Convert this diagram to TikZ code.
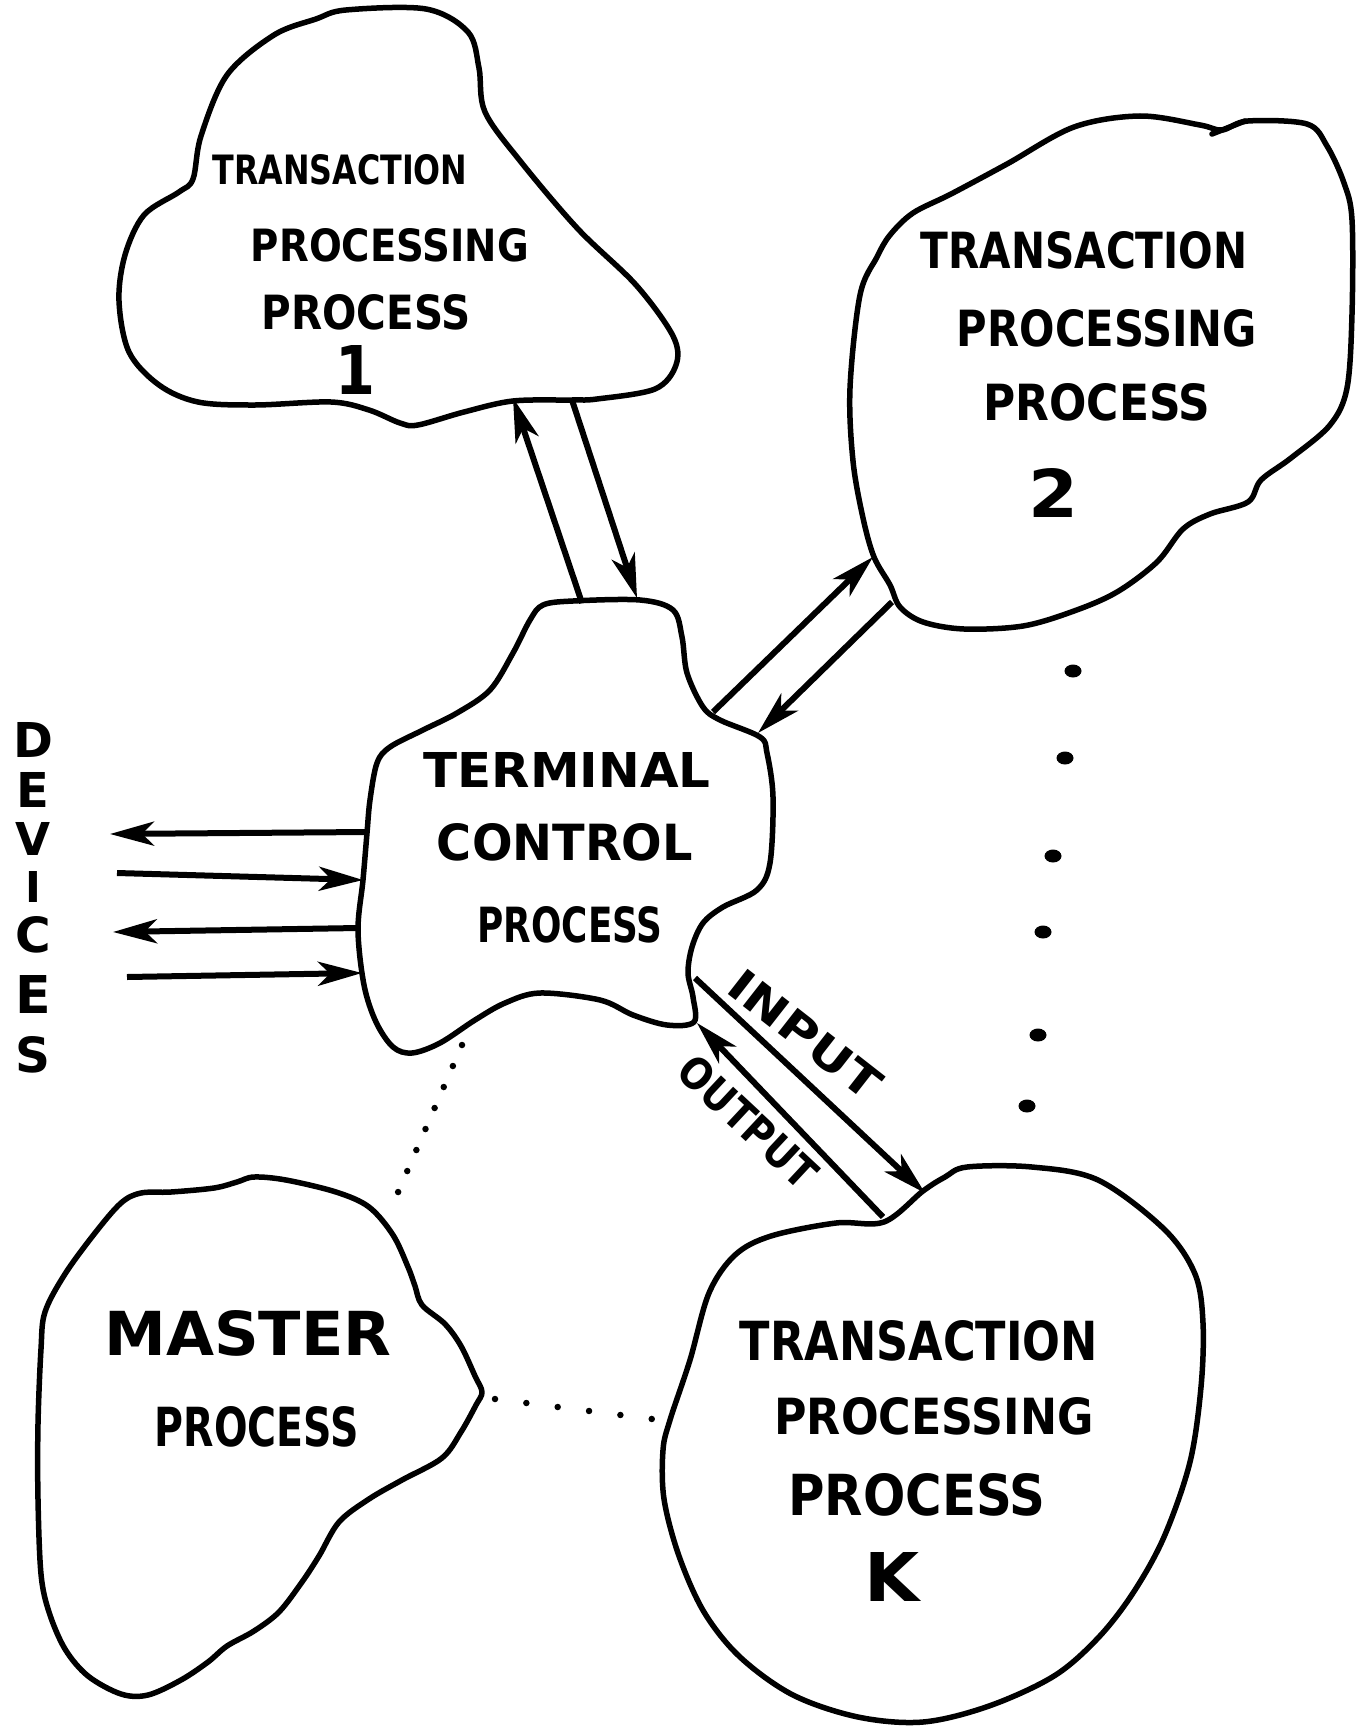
\documentclass[tikz,border=0pt]{standalone}
\usepackage{fontspec}
\setmainfont{DejaVu Sans}
\usepackage{graphicx}
\usetikzlibrary{arrows.meta}
\newcommand{\hwtext}[3]{\resizebox{#1pt}{#2pt}{\bfseries #3}}
\newcommand{\hwlet}[2]{\resizebox{!}{#1pt}{\bfseries #2}}
\begin{document}
\begin{tikzpicture}[x=1pt,y=-1pt,
  blob/.style={line width=5.5pt,line join=round,line cap=round},
  conn/.style={line width=6pt,-{Stealth[length=44pt,width=24pt,inset=12pt]}},
  dotlink/.style={line width=6.5pt,line cap=round},
  lbl/.style={inner sep=0pt,outer sep=0pt}]
\useasboundingbox[fill=white] (0,0) rectangle (1367,1731);

% ---- blobs ----
\draw[blob] plot[smooth cycle,tension=0.55] coordinates {
 (346,10) (426,9) (468,32) (479,68) (485,112) (521,162) (578,229) (636,285)
 (673,336) (676,365) (655,389) (597,399) (572,400) (513,401) (464,412) (418,425)
 (400,423) (369,410) (331,402) (255,405) (198,402) (159,385) (129,352) (119,301)
 (125,255) (144,215) (179,192) (193,179) (201,136) (227,75) (274,35) (316,19)};

\draw[blob] plot[smooth cycle,tension=0.55] coordinates {
 (1222,130) (1248,121) (1307,124) (1327,146) (1344,183) (1352,220) (1352,314)
 (1347,388) (1330,425) (1291,458) (1261,480) (1248,502) (1210,514) (1183,529)
 (1157,562) (1117,592) (1074,611) (1023,626) (964,629) (923,622) (900,607)
 (890,585) (874,557) (863,518) (853,461) (850,388) (860,295) (877,257) (890,235)
 (913,213) (951,194) (1007,164) (1074,127) (1140,116) (1200,125)};
\draw[blob] (1212,134) -- (1245,121);

\draw[blob] plot[smooth cycle,tension=0.55] coordinates {
 (543,605) (573,601) (640,600) (673,610) (682,637) (687,673) (703,707) (720,720)
 (760,737) (767,753) (773,797) (770,863) (757,890) (723,907) (703,923) (692,947)
 (688,973) (693,997) (694,1022) (667,1025) (633,1015) (600,1000) (540,993)
 (505,1003) (475,1020) (440,1043) (412,1053) (393,1047) (376,1022) (364,985)
 (358,930) (363,880) (367,833) (370,800) (377,763) (390,747) (423,730) (457,713)
 (490,690) (513,653) (530,620)};

\draw[blob] plot[smooth cycle,tension=0.55] coordinates {
 (884,1222) (923,1191) (945,1177) (967,1167) (1032,1167) (1098,1180) (1164,1229)
 (1195,1274) (1203,1323) (1201,1387) (1190,1462) (1164,1537) (1133,1593)
 (1098,1638) (1054,1676) (989,1706) (923,1722) (858,1717) (793,1695) (740,1657)
 (704,1612) (679,1556) (664,1499) (663,1450) (670,1420) (690,1360) (709,1293)
 (735,1255) (771,1236) (836,1223)};

\draw[blob] plot[smooth cycle,tension=0.55] coordinates {
 (254,1177) (286,1180) (336,1192) (369,1207) (393,1235) (408,1267) (415,1286)
 (422,1305) (445,1324) (461,1346) (475,1376) (482,1392) (476,1405) (461,1432)
 (442,1458) (402,1480) (369,1499) (339,1522) (319,1556) (302,1582) (279,1612)
 (254,1631) (227,1646) (208,1662) (181,1680) (148,1695) (121,1694) (88,1676)
 (65,1649) (49,1612) (41,1574) (38,1499) (38,1424) (41,1349) (45,1312) (65,1274)
 (95,1233) (121,1203) (141,1193) (171,1192) (214,1188) (237,1182)};

% ---- labels ----
\node[lbl] (tp1a) at (340,170) {\hwtext{255}{30}{TRANSACTION}};
\node[lbl] (tp1b) at (390,245) {\hwtext{278}{33}{PROCESSING}};
\node[lbl] (tp1c) at (366,312) {\hwtext{209}{35}{PROCESS}};
\node[lbl] (tp1n) at (355,370) {\hwtext{40}{49}{1}};

\node[lbl] (tp2a) at (1084,250) {\hwtext{327}{37}{TRANSACTION}};
\node[lbl] (tp2b) at (1107,328) {\hwtext{300}{37}{PROCESSING}};
\node[lbl] (tp2c) at (1097,402) {\hwtext{227}{37}{PROCESS}};
\node[lbl] (tp2n) at (1053,493) {\hwtext{50}{49}{2}};

\node[lbl] (tcpa) at (567,770) {\hwtext{287}{35}{TERMINAL}};
\node[lbl] (tcpb) at (565,842) {\hwtext{256}{37}{CONTROL}};
\node[lbl] (tcpc) at (570,925) {\hwtext{185}{36}{PROCESS}};

\node[lbl] (tpka) at (919,1341) {\hwtext{358}{40}{TRANSACTION}};
\node[lbl] (tpkb) at (934,1416) {\hwtext{319}{37}{PROCESSING}};
\node[lbl] (tpkc) at (917,1495) {\hwtext{257}{42}{PROCESS}};
\node[lbl] (tpkn) at (892,1577) {\hwtext{55}{49}{K}};

\node[lbl] (msa) at (248,1333) {\hwtext{287}{45}{MASTER}};
\node[lbl] (msb) at (257,1427) {\hwtext{204}{40}{PROCESS}};

\node[lbl] (dv1) at (33,740) {\hwlet{35}{D}};
\node[lbl] (dv2) at (33,790) {\hwlet{35}{E}};
\node[lbl] (dv3) at (33,839) {\hwlet{33}{V}};
\node[lbl] (dv4) at (33,887) {\hwlet{31}{I}};
\node[lbl] (dv5) at (33,935) {\hwlet{36}{C}};
\node[lbl] (dv6) at (33,994) {\hwlet{38}{E}};
\node[lbl] (dv7) at (33,1055) {\hwlet{36}{S}};

\node[lbl,rotate=-38] (inl) at (805,1035) {\hwtext{180}{32}{INPUT}};
\node[lbl,rotate=-43] (outl) at (748,1122) {\hwtext{172}{32}{OUTPUT}};

% ---- connector end points ----
\coordinate (a1) at (582,603);  \coordinate (a2) at (513,398);
\coordinate (b1) at (572,400);  \coordinate (b2) at (637,598);
\coordinate (c1) at (713,712);  \coordinate (c2) at (873,557);
\coordinate (e1) at (892,602);  \coordinate (e2) at (758,733);
\coordinate (f1) at (695,978);  \coordinate (f2) at (925,1193);
\coordinate (g1) at (883,1217); \coordinate (g2) at (697,1023);
\coordinate (d1s) at (367,832); \coordinate (d1e) at (110,834);
\coordinate (d2s) at (117,873); \coordinate (d2e) at (363,880);
\coordinate (d3s) at (358,928); \coordinate (d3e) at (113,932);
\coordinate (d4s) at (127,977); \coordinate (d4e) at (362,973);
\coordinate (m1) at (462,1045); \coordinate (m2) at (389,1213);
\coordinate (n1) at (495,1399); \coordinate (n2) at (652,1419);

% ---- connectors ----
\draw[conn] (a1) -- (a2);
\draw[conn] (b1) -- (b2);
\draw[conn] (c1) -- (c2);
\draw[conn] (e1) -- (e2);
\draw[conn] (f1) -- (f2);
\draw[conn] (g1) -- (g2);
\draw[conn] (d1s) -- (d1e);
\draw[conn] (d2s) -- (d2e);
\draw[conn] (d3s) -- (d3e);
\draw[conn] (d4s) -- (d4e);

\draw[dotlink,dash pattern=on 0pt off 22.9pt] (m1) -- (m2);
\draw[dotlink,dash pattern=on 0pt off 31.6pt] (n1) -- (n2);

% ---- ellipsis dots ----
\foreach \p in {(1073,671),(1065,758),(1053,856),(1043,932),(1038,1035),(1027,1106)}
  \fill \p ellipse [x radius=8.5pt,y radius=6.5pt];
\end{tikzpicture}
\end{document}
